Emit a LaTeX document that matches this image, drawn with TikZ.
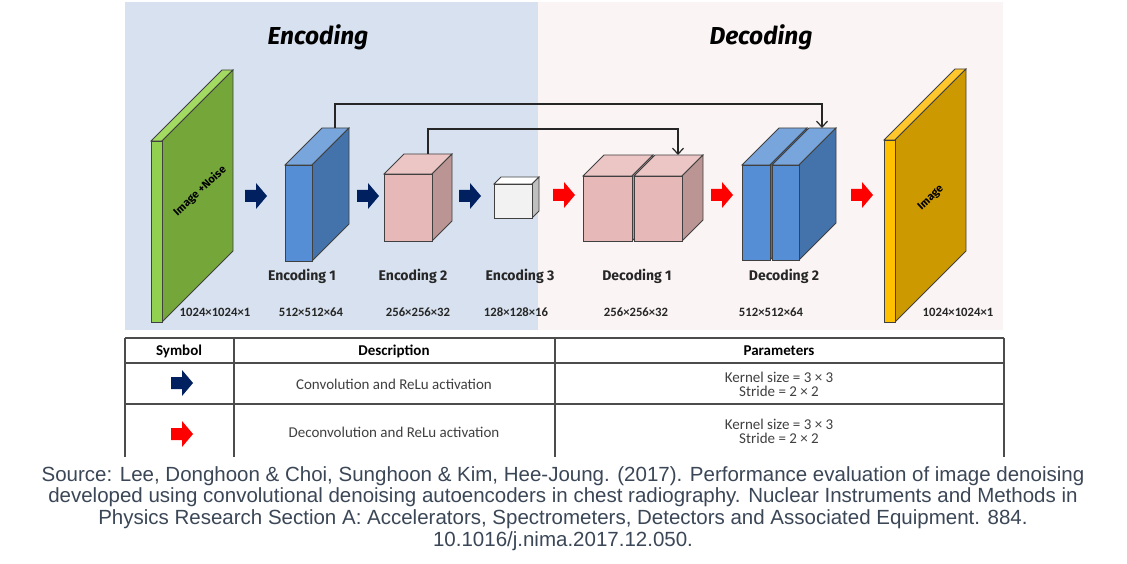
\documentclass[tikz,border=0pt]{standalone}
\usepackage{fontspec}
\setmainfont{Liberation Sans}
\newfontfamily\labfont{Fira Sans}
\newfontfamily\tabfont{Carlito}
\usetikzlibrary{arrows.meta}
\definecolor{encbg}{HTML}{D7E1EF}
\definecolor{decbg}{HTML}{FBF4F4}
\definecolor{convcol}{HTML}{002060}
\definecolor{deconvcol}{HTML}{FF0000}
\definecolor{greenfront}{HTML}{92D050}
\definecolor{greentop}{HTML}{A2DA62}
\definecolor{greenside}{HTML}{74A63A}
\definecolor{bluefront}{HTML}{558ED5}
\definecolor{bluetop}{HTML}{78A5DC}
\definecolor{blueside}{HTML}{4472AA}
\definecolor{pinkfront}{HTML}{E6B9B8}
\definecolor{pinktop}{HTML}{EBC6C5}
\definecolor{pinkside}{HTML}{BA9594}
\definecolor{whitefront}{HTML}{F2F2F2}
\definecolor{whitetop}{HTML}{FFFFFF}
\definecolor{whiteside}{HTML}{BFBFBF}
\definecolor{goldfront}{HTML}{FFC000}
\definecolor{goldtop}{HTML}{FFC72C}
\definecolor{goldside}{HTML}{CC9A00}
\definecolor{captioncol}{HTML}{3B4757}
\newcommand{\layerbox}[8]{%
\filldraw[edge,fill=#7] (#1,#2) -- ++(#5,-#5) -- ++(#3,0) -- ++(-#5,#5) -- cycle;
\filldraw[edge,fill=#8] (#1+#3,#2) -- ++(#5,-#5) -- ++(0,#4) -- ++(-#5,#5) -- cycle;
\filldraw[edge,fill=#6] (#1,#2) rectangle ++(#3,#4);
}
\tikzset{
edge/.style={draw=black!75,line width=0.8pt},
skipline/.style={draw=black!85,line width=1.2pt,-{Straight Barb[length=6pt,width=11pt]}},
tabline/.style={draw=black!70,line width=1.1pt},
title/.style={font=\labfont\bfseries\itshape\fontsize{24.5}{28}\selectfont},
layername/.style={font=\labfont\bfseries\fontsize{14}{16}\selectfont,text=black!85},
dims/.style={font=\tabfont\bfseries\fontsize{12.7}{14}\selectfont,text=black!85},
slabtext/.style={font=\labfont\bfseries\fontsize{11}{12}\selectfont,rotate=43},
tabhead/.style={font=\tabfont\bfseries\fontsize{15}{15}\selectfont},
tabtext/.style={font=\tabfont\fontsize{15}{14}\selectfont,text=black!75},
caption/.style={font=\fontsize{20.5}{21.8}\selectfont,text=captioncol,align=center,inner sep=0pt},
blockarrow/.pic={\fill[#1] (-11,-6) -- (0,-6) -- (0,-13) -- (11,0) -- (0,13) -- (0,6) -- (-11,6) -- cycle;}
}
\begin{document}
\begin{tikzpicture}[x=1pt,y=-1pt]
\useasboundingbox[fill=white] (0,0) rectangle (1127,564);
\fill[encbg] (125,2) rectangle (538,330);
\fill[decbg] (538,2) rectangle (1003,330);
\node[title] (enctitle) at (318,37) {Encoding};
\node[title] (dectitle) at (761,37) {Decoding};
\layerbox{151}{141}{11}{181}{71}{greenfront}{greentop}{greenside}
\layerbox{285}{165}{27}{96}{37}{bluefront}{bluetop}{blueside}
\layerbox{384}{174}{48}{67}{20}{pinkfront}{pinktop}{pinkside}
\layerbox{494}{184}{38}{34}{7}{whitefront}{whitetop}{whiteside}
\layerbox{583}{176}{49}{65}{21}{pinkfront}{pinktop}{pinkside}
\layerbox{634}{176}{48}{65}{21}{pinkfront}{pinktop}{pinkside}
\layerbox{742}{165}{28}{95}{37}{bluefront}{bluetop}{blueside}
\layerbox{772}{165}{27}{95}{37}{bluefront}{bluetop}{blueside}
\layerbox{884}{140}{11}{182}{71}{goldfront}{goldtop}{goldside}
\node[slabtext] (noisy) at (200,191) {Image +Noise};
\node[slabtext] (clean) at (931,198) {Image};
\coordinate (enc1top) at (335,128);
\coordinate (enc2top) at (428,154);
\coordinate (dec1top) at (678,155);
\coordinate (dec2top) at (822,128);
\draw[skipline] (enc1top) -- ++(0,-24) -| (dec2top);
\draw[skipline] (enc2top) -- ++(0,-25) -| (dec1top);
\pic at (256,196) {blockarrow=convcol};
\pic at (368,196) {blockarrow=convcol};
\pic at (470,196) {blockarrow=convcol};
\pic at (564,195) {blockarrow=deconvcol};
\pic at (722,195) {blockarrow=deconvcol};
\pic at (862,195) {blockarrow=deconvcol};
\node[layername] (enc1) at (302,276) {Encoding 1};
\node[layername] (enc2) at (413,276) {Encoding 2};
\node[layername] (enc3) at (520,276) {Encoding 3};
\node[layername] (dec1) at (637,276) {Decoding 1};
\node[layername] (dec2) at (784,276) {Decoding 2};
\node[dims] (dimin) at (215,312) {1024×1024×1};
\node[dims] (dimenc1) at (311,312) {512×512×64};
\node[dims] (dimenc2) at (418,312) {256×256×32};
\node[dims] (dimenc3) at (516,312) {128×128×16};
\node[dims] (dimdec1) at (636,312) {256×256×32};
\node[dims] (dimdec2) at (771,312) {512×512×64};
\node[dims] (dimout) at (958,312) {1024×1024×1};
\draw[tabline] (125,338) -- (1004,338);
\draw[tabline] (125,363) -- (1004,363);
\draw[tabline] (125,404) -- (1004,404);
\draw[tabline] (125,338) -- (125,457);
\draw[tabline] (234,338) -- (234,457);
\draw[tabline] (555,338) -- (555,457);
\draw[tabline] (1004,338) -- (1004,457);
\node[tabhead] (hsym) at (179,351) {Symbol};
\node[tabhead] (hdesc) at (394,351) {Description};
\node[tabhead] (hpar) at (779,351) {Parameters};
\pic at (182,383) {blockarrow=convcol};
\pic at (182,434) {blockarrow=deconvcol};
\node[tabtext] (conv) at (394,384) {Convolution and ReLu activation};
\node[tabtext] (deconv) at (394,432) {Deconvolution and ReLu activation};
\node[tabtext,align=center] (convpar) at (779,384) {Kernel size = 3 × 3\\Stride = 2 × 2};
\node[tabtext,align=center] (deconvpar) at (779,431) {Kernel size = 3 × 3\\Stride = 2 × 2};
\node[caption,anchor=north] (source) at (563,466) {Source: Lee, Donghoon \& Choi, Sunghoon \& Kim, Hee-Joung. (2017). Performance evaluation of image denoising\\developed using convolutional denoising autoencoders in chest radiography. Nuclear Instruments and Methods in\\Physics Research Section A: Accelerators, Spectrometers, Detectors and Associated Equipment. 884.\\10.1016/j.nima.2017.12.050.};
\end{tikzpicture}
\end{document}
